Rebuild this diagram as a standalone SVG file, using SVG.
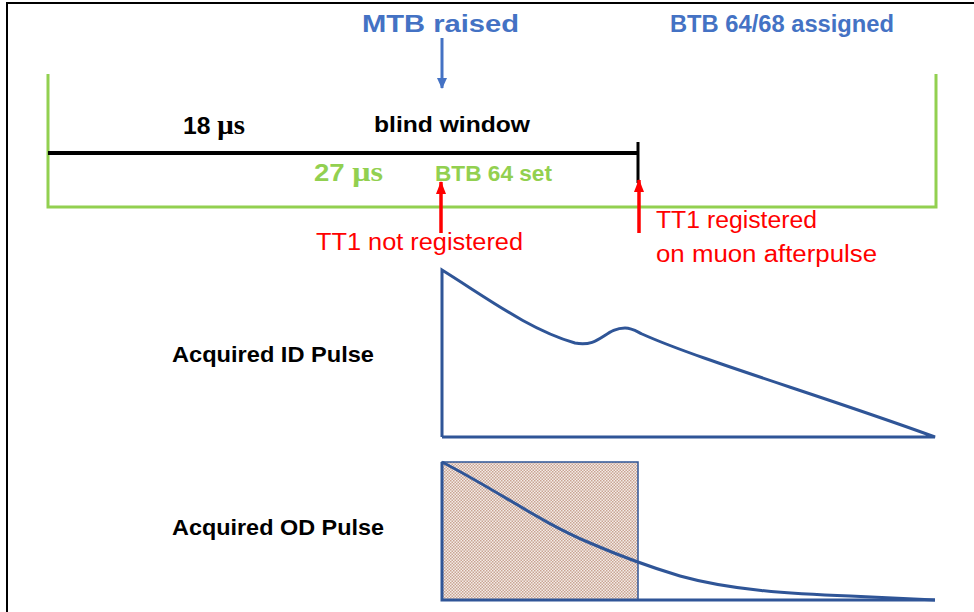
<svg xmlns="http://www.w3.org/2000/svg" width="974" height="612" viewBox="0 0 974 612">
<style>
.t{font-family:"Liberation Sans",Arial,sans-serif;}
.b{font-weight:bold;}
.mu{font-family:"Liberation Serif","Times New Roman",serif;font-weight:bold;}
.blue{fill:#4472c4;}
.green{fill:#92d050;}
.red{fill:#ff0000;}
.blk{fill:#000;}
.pulse{fill:none;stroke:#2f5597;stroke-width:3;}
</style>
<defs>
<marker id="ablue" markerWidth="12" markerHeight="12" refX="10" refY="6" orient="auto" markerUnits="userSpaceOnUse">
<path d="M0,1 L11,6 L0,11 Z" fill="#4472c4"/>
</marker>
<marker id="ared" markerWidth="14" markerHeight="12" refX="12" refY="6" orient="auto" markerUnits="userSpaceOnUse">
<path d="M0,1 L13,6 L0,11 Z" fill="#ff0000"/>
</marker>
<pattern id="dots" width="3" height="3" patternUnits="userSpaceOnUse">
<rect width="3" height="3" fill="#f4ece8"/>
<rect x="0" y="0" width="1.5" height="1.5" fill="#c9a493"/>
<rect x="1.5" y="1.5" width="1.5" height="1.5" fill="#c9a493"/>
</pattern>
</defs>
<rect width="974" height="612" fill="#fff"/>
<g id="frame" fill="none" stroke="#000" stroke-width="2">
<path d="M7,612 V3 H974"/>
</g>
<g id="timeline">
<path d="M48,74 V207 H936 V74" fill="none" stroke="#92d050" stroke-width="3"/>
<path d="M48,153 H638" stroke="#000" stroke-width="4"/>
<path d="M638,142 V183" stroke="#000" stroke-width="3"/>
</g>
<g id="connectors">
<path d="M442,38 V88" stroke="#4472c4" stroke-width="3" marker-end="url(#ablue)"/>
<path d="M441,233 V182" stroke="#ff0000" stroke-width="3.5" marker-end="url(#ared)"/>
<path d="M639,233 V180" stroke="#ff0000" stroke-width="3.5" marker-end="url(#ared)"/>
</g>
<g id="labels-top">
<text class="t b blue" x="362" y="32" font-size="23" textLength="157" lengthAdjust="spacingAndGlyphs">MTB raised</text>
<text class="t b blue" x="670" y="32" font-size="23" textLength="224" lengthAdjust="spacingAndGlyphs">BTB 64/68 assigned</text>
<text class="t b blk" x="183" y="134" font-size="23" textLength="62" lengthAdjust="spacingAndGlyphs">18 <tspan class="mu" font-size="27">μs</tspan></text>
<text class="t b blk" x="374" y="132" font-size="22" textLength="156" lengthAdjust="spacingAndGlyphs">blind window</text>
<text class="t b green" x="314" y="181" font-size="24" textLength="69" lengthAdjust="spacingAndGlyphs">27 <tspan class="mu" font-size="28">μs</tspan></text>
<text class="t b green" x="435" y="181" font-size="22" textLength="117" lengthAdjust="spacingAndGlyphs">BTB 64 set</text>
</g>
<g id="labels-red">
<text class="t red" x="316" y="250" font-size="23" textLength="207" lengthAdjust="spacingAndGlyphs">TT1 not registered</text>
<text class="t red" x="656" y="228" font-size="23" textLength="161" lengthAdjust="spacingAndGlyphs">TT1 registered</text>
<text class="t red" x="656" y="262" font-size="23" textLength="221" lengthAdjust="spacingAndGlyphs">on muon afterpulse</text>
</g>
<g id="id-pulse">
<text class="t b blk" x="172" y="362" font-size="22" textLength="202" lengthAdjust="spacingAndGlyphs">Acquired ID Pulse</text>
<path class="pulse" d="M442,437 V270 C490,300 530,330 575,343 C600,348 605,328 625,328 C632,328 636,331 642,334 C700,360 820,395 935,437 H442"/>
</g>
<g id="od-pulse">
<text class="t b blk" x="172" y="535" font-size="22" textLength="212" lengthAdjust="spacingAndGlyphs">Acquired OD Pulse</text>
<rect x="442" y="462" width="196" height="138" fill="url(#dots)" stroke="#2f5597" stroke-width="1.5"/>
<path class="pulse" d="M442,462 C500,492 540,522 590,543 C620,556 650,567 680,576 C730,590 790,594 850,596 C890,598 915,599 935,600"/>
<path class="pulse" d="M442,462 V600 H935"/>
</g>
</svg>
